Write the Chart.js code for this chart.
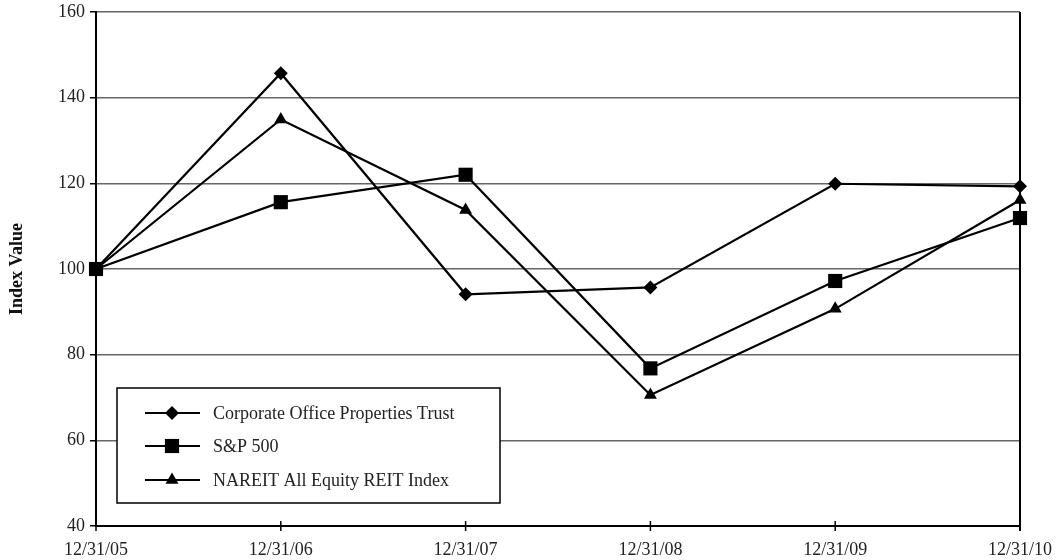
<!DOCTYPE html>
<html>
<head>
<meta charset="utf-8">
<script src="https://cdn.jsdelivr.net/npm/chart.js@4"></script>
<style>
  html, body { margin: 0; padding: 0; background: #fff; }
  #wrap { width: 1059px; height: 560px; }
</style>
</head>
<body>
<div id="wrap"><canvas id="myChart" width="1059" height="560"></canvas></div>
<script>
// data
const labels = ["12/31/05", "12/31/06", "12/31/07", "12/31/08", "12/31/09", "12/31/10"];
const copt = [100, 145.7, 94.1, 95.7, 119.9, 119.3];
const sp500 = [100, 115.6, 122.0, 76.8, 97.2, 111.9];
const nareit = [100, 134.9, 113.8, 70.6, 90.7, 116.1];
const seriesNames = ["Corporate Office Properties Trust", "S&P 500", "NAREIT All Equity REIT Index"];
const markers = ["rectRot", "rect", "triangle"];
const markerSize = [7, 10, 7.5];

const serif = "'Liberation Serif', 'DejaVu Serif', serif";

const makeSet = (i, values) => ({
  label: seriesNames[i],
  data: values,
  borderColor: "#000",
  backgroundColor: "#000",
  borderWidth: 2.2,
  pointStyle: markers[i],
  pointRadius: markerSize[i],
  pointBorderWidth: 0,
  tension: 0
});

// legend box, ticks and right border, drawn by hand
const extras = {
  id: "extras",
  afterDraw(chart) {
    const ctx = chart.ctx;
    const area = chart.chartArea;
    const xs = chart.scales.x;
    ctx.save();
    ctx.strokeStyle = "#000";
    // right border
    ctx.lineWidth = 2;
    ctx.beginPath();
    ctx.moveTo(area.right, area.top);
    ctx.lineTo(area.right, area.bottom + 5);
    ctx.stroke();
    // x ticks crossing the axis
    ctx.lineWidth = 1.5;
    for (let i = 0; i < labels.length; i++) {
      const px = xs.getPixelForValue(i);
      ctx.beginPath();
      ctx.moveTo(px, area.bottom - 5);
      ctx.lineTo(px, area.bottom + 5);
      ctx.stroke();
    }
    // legend
    const bx = 117, by = 388, bw = 383, bh = 115;
    ctx.fillStyle = "#fff";
    ctx.fillRect(bx, by, bw, bh);
    ctx.lineWidth = 1.5;
    ctx.strokeRect(bx, by, bw, bh);
    const rows = [413, 446, 480];
    ctx.font = "18px " + serif;
    ctx.textBaseline = "middle";
    for (let i = 0; i < seriesNames.length; i++) {
      const y = rows[i];
      ctx.lineWidth = 2;
      ctx.beginPath();
      ctx.moveTo(145, y);
      ctx.lineTo(200, y);
      ctx.stroke();
      ctx.fillStyle = "#000";
      Chart.helpers.drawPoint(ctx, { pointStyle: markers[i], radius: markerSize[i], borderWidth: 0 }, 172, y);
      ctx.fillStyle = "#222";
      ctx.fillText(seriesNames[i], 213, y + 1);
    }
    ctx.restore();
  }
};

const ctx = document.getElementById("myChart");
new Chart(ctx, {
  type: "line",
  data: {
    labels: labels,
    datasets: [makeSet(0, copt), makeSet(1, sp500), makeSet(2, nareit)]
  },
  options: {
    responsive: false,
    animation: false,
    events: [],
    layout: { padding: { top: 12, right: 39, left: 0, bottom: 0 } },
    plugins: { legend: { display: false }, tooltip: { enabled: false } },
    scales: {
      x: {
        offset: false,
        grid: { display: false, drawOnChartArea: false },
        border: { display: true, color: "#000", width: 2 },
        ticks: { color: "#222", font: { family: serif, size: 18 }, maxRotation: 0, padding: 5 },
        afterFit: (s) => { s.height = 34; s.paddingRight = 0; s.paddingLeft = 0; }
      },
      y: {
        min: 40,
        max: 160,
        ticks: { stepSize: 20, color: "#222", font: { family: serif, size: 18 }, padding: 5 },
        grid: { color: "#666", lineWidth: 1.5, tickLength: 6, drawTicks: true, tickColor: "#000" },
        border: { display: true, color: "#000", width: 2 },
        title: {
          display: true,
          text: "Index Value",
          color: "#111",
          font: { family: serif, size: 18, weight: "bold" },
          padding: { top: 7, bottom: 0 }
        },
        afterFit: (s) => { s.width = 96; s.paddingTop = 0; s.paddingBottom = 0; }
      }
    }
  },
  plugins: [extras]
});
</script>
</body>
</html>
